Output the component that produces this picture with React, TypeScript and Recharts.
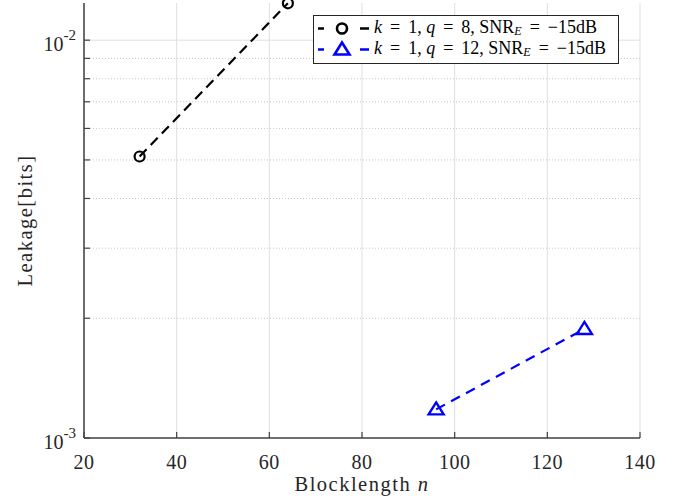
import { LineChart, Line, XAxis, YAxis, CartesianGrid, ReferenceLine, Legend, Label } from "recharts"

const xTicks = [20, 40, 60, 80, 100, 120, 140]
const yTicks = [0.001, 0.002, 0.003, 0.004, 0.005, 0.006, 0.007, 0.008, 0.009, 0.01]
const yMajor = [0.01]
const yMinor = [0.002, 0.003, 0.004, 0.005, 0.006, 0.007, 0.008, 0.009]

const blocklengthQ8 = [32, 64]
const leakageQ8 = [0.0051, 0.01238]
const blocklengthQ12 = [96, 128]
const leakageQ12 = [0.00118, 0.00188]

const q8Data = blocklengthQ8.map((n, i) => ({ n, leakage: leakageQ8[i] }))
const q12Data = blocklengthQ12.map((n, i) => ({ n, leakage: leakageQ12[i] }))

const FONT = "'Liberation Serif', 'Times New Roman', serif"
const AXIS = "#404040"
const TEXT = "#262626"

const CircleDot = (props: any) => {
  const { cx, cy } = props
  return <circle cx={cx} cy={cy} r={5} fill="none" stroke="#000" strokeWidth={2.2} />
}

const TriangleDot = (props: any) => {
  const { cx, cy } = props
  return (
    <path
      d={`M${cx},${cy - 7} L${cx + 7.5},${cy + 5} L${cx - 7.5},${cy + 5} Z`}
      fill="none"
      stroke="#0000ff"
      strokeWidth={2.4}
      strokeLinejoin="miter"
    />
  )
}

const XTick = ({ x, y, payload }: any) => (
  <text x={x} y={y} dy="0.71em" textAnchor="middle" fontFamily={FONT} fontSize={20} letterSpacing={0.5} fill={TEXT}>
    {payload.value}
  </text>
)

const YTick = ({ x, y, payload }: any) => {
  const exp = Math.log10(payload.value)
  if (Math.abs(exp - Math.round(exp)) > 1e-6) return <g />
  return (
    <text x={x} y={y + 11} textAnchor="end" fontFamily={FONT} fontSize={20} fill={TEXT}>
      10
      <tspan dy={-11} fontSize={15}>
        {Math.round(exp)}
      </tspan>
    </text>
  )
}

const legendRows = [
  { q: 8, color: "#000", marker: "circle" },
  { q: 12, color: "#0000ff", marker: "triangle" },
]

const Eq = () => <span style={{ margin: "0 8px" }}>=</span>

const LegendBox = () => (
  <div
    style={{
      background: "#fff",
      border: "1px solid #262626",
      padding: "2px 12px 3px 2px",
      fontFamily: FONT,
      fontSize: 18,
      lineHeight: "21px",
      color: "#000",
      whiteSpace: "nowrap",
    }}
  >
    {legendRows.map((r) => (
      <div key={r.q} style={{ display: "flex", alignItems: "center", height: 21 }}>
        <svg width={58} height={21} style={{ display: "block" }}>
          <line x1={2} y1={10.5} x2={8} y2={10.5} stroke={r.color} strokeWidth={2.5} />
          <line x1={44} y1={10.5} x2={53} y2={10.5} stroke={r.color} strokeWidth={2.5} />
          {r.marker === "circle" ? (
            <circle cx={26} cy={10.5} r={5} fill="none" stroke={r.color} strokeWidth={2.6} />
          ) : (
            <path d="M26,3.5 L33.5,15.5 L18.5,15.5 Z" fill="none" stroke={r.color} strokeWidth={2.6} />
          )}
        </svg>
        <span>
          <i>k</i>
          <Eq />1, <i>q</i>
          <Eq />
          {r.q}, SNR
          <span style={{ fontSize: 12, position: "relative", top: 2 }}>
            <i>E</i>
          </span>
          <Eq />−15dB
        </span>
      </div>
    ))}
  </div>
)

export default function App() {
  return (
    <div style={{ position: "absolute", left: 0, top: 0, background: "#fff" }}>
      <LineChart width={681} height={501} margin={{ top: 3, right: 41, bottom: 0, left: 0 }}>
        <CartesianGrid horizontal={false} stroke="#dfdfdf" />
        {yMinor.map((v) => (
          <ReferenceLine key={v} y={v} stroke="#c8c8c8" strokeDasharray="1 2" />
        ))}
        {yMajor.map((v) => (
          <ReferenceLine key={v} y={v} stroke="#dfdfdf" />
        ))}
        <XAxis
          dataKey="n"
          type="number"
          domain={[20, 140]}
          ticks={xTicks}
          interval={0}
          height={63}
          tickSize={-6}
          tickMargin={23}
          tick={XTick}
          axisLine={{ stroke: AXIS, strokeWidth: 1.5 }}
          tickLine={{ stroke: AXIS, strokeWidth: 1.2 }}
        >
          <Label
            content={({ viewBox }: any) => (
              <text
                x={viewBox.x + viewBox.width / 2}
                y={viewBox.y + 53}
                textAnchor="middle"
                fontFamily={FONT}
                fontSize={20.5}
                letterSpacing={1.5}
                fill={TEXT}
              >
                Blocklength <tspan fontStyle="italic">n</tspan>
              </text>
            )}
          />
        </XAxis>
        <XAxis
          xAxisId="top"
          orientation="top"
          type="number"
          domain={[20, 140]}
          ticks={xTicks}
          interval={0}
          height={0}
          tickSize={-6}
          tick={false}
          axisLine={{ stroke: AXIS, strokeWidth: 1.5 }}
          tickLine={{ stroke: AXIS, strokeWidth: 1.2 }}
        />
        <YAxis
          type="number"
          scale="log"
          domain={[0.001, 0.0124]}
          ticks={yTicks}
          interval={0}
          width={84}
          tickSize={-6}
          tickMargin={14}
          tick={YTick}
          axisLine={{ stroke: AXIS, strokeWidth: 1.5 }}
          tickLine={{ stroke: AXIS, strokeWidth: 1.2 }}
        >
          <Label
            content={({ viewBox }: any) => (
              <text
                x={25}
                y={viewBox.y + viewBox.height / 2}
                textAnchor="middle"
                dominantBaseline="central"
                transform={`rotate(-90, 25, ${viewBox.y + viewBox.height / 2})`}
                fontFamily={FONT}
                fontSize={20.5}
                letterSpacing={1.5}
                fill={TEXT}
              >
                Leakage[bits]
              </text>
            )}
          />
        </YAxis>
        <YAxis
          yAxisId="right"
          orientation="right"
          type="number"
          scale="log"
          domain={[0.001, 0.0124]}
          ticks={yTicks}
          interval={0}
          width={0}
          tickSize={-6}
          tick={false}
          axisLine={{ stroke: AXIS, strokeWidth: 1.5 }}
          tickLine={{ stroke: AXIS, strokeWidth: 1.2 }}
        />
        <Legend
          layout="horizontal"
          align="center"
          verticalAlign="middle"
          wrapperStyle={{ left: 313, top: 15, width: "auto", height: "auto" }}
          content={LegendBox}
        />
        <Line
          data={q8Data}
          dataKey="leakage"
          stroke="#000"
          strokeWidth={2.2}
          strokeDasharray="10 6"
          dot={CircleDot}
          activeDot={false}
          isAnimationActive={false}
        />
        <Line
          data={q12Data}
          dataKey="leakage"
          stroke="#0000ff"
          strokeWidth={2.2}
          strokeDasharray="10 7"
          dot={TriangleDot}
          activeDot={false}
          isAnimationActive={false}
        />
      </LineChart>
    </div>
  )
}
